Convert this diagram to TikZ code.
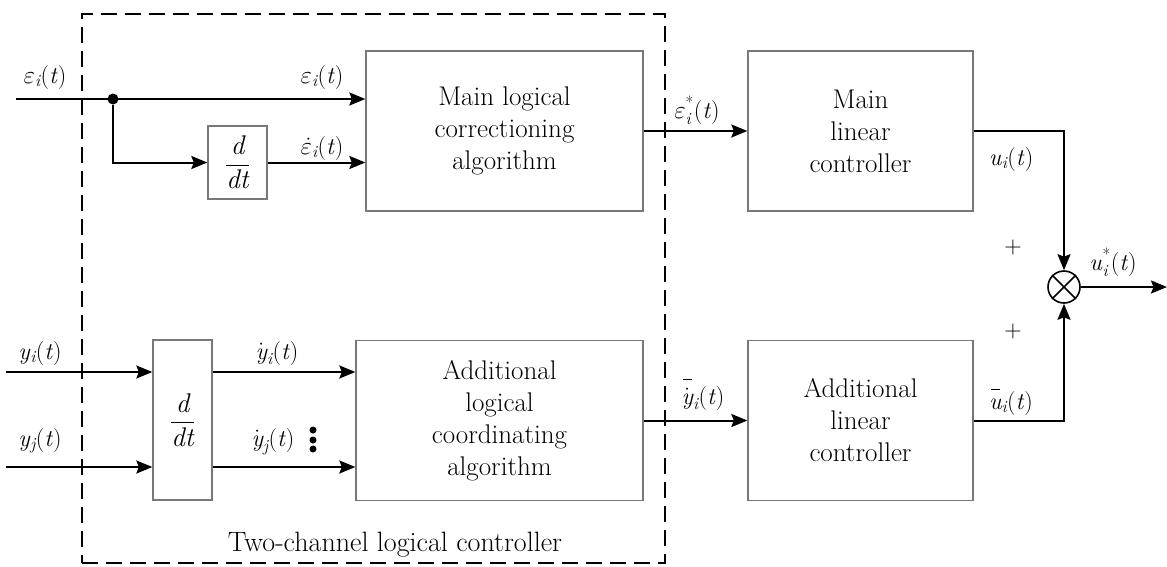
\documentclass[tikz,border=0pt]{standalone}
\usepackage{amsmath}
\usepackage{fontspec}
\usetikzlibrary{arrows.meta}

\definecolor{boxgray}{RGB}{120,120,120}
\newcommand{\boxfont}{\fontsize{27}{32}\selectfont}
\newcommand{\capfont}{\fontsize{28}{32}\selectfont}
\newcommand{\lblfont}{\fontsize{24}{28}\selectfont}
\newcommand{\ddt}{$\displaystyle\frac{\textit{d}}{\textit{dt}}$}
% bar set well above a symbol
\newcommand{\topbar}[1]{\overset{\raisebox{3pt}{\rule{9pt}{1.1pt}}}{#1}}

\begin{document}
\begin{tikzpicture}[x=1pt,y=-1pt,
  block/.style={draw=boxgray, line width=1.3pt, align=center, font=\boxfont, inner sep=0pt},
  conn/.style={line width=2pt, -{Stealth[length=16pt,width=13pt,inset=2.5pt]}},
  lbl/.style={font=\lblfont, anchor=base, inner sep=0pt},
  dashbox/.style={draw, line width=2pt, dash pattern=on 16pt off 8pt, inner sep=0pt},
  junction/.style={circle, fill, inner sep=0pt, minimum size=11pt},
  vdot/.style={circle, fill, inner sep=0pt, minimum size=7pt},
  sumnode/.style={circle, draw, line width=1.6pt, inner sep=0pt, minimum size=32pt}
]
\useasboundingbox (0,0) rectangle (1167,566);

% two-channel logical controller frame
\node[dashbox, minimum width=583pt, minimum height=549pt] (tcl) at (373.5,288.5) {};
\node[font=\capfont] (tclcap) at (395,545) {Two-channel logical controller};

% blocks
\node[block, minimum width=277pt, minimum height=160pt] (mlca) at (504.5,131) {Main logical\\correctioning\\algorithm};
\node[block, minimum width=225pt, minimum height=160pt] (mlc) at (860.5,131) {Main\\linear\\controller};
\node[block, minimum width=287pt, minimum height=160pt] (alca) at (499.5,420.5) {Additional\\logical\\coordinating\\algorithm};
\node[block, minimum width=225pt, minimum height=160pt] (alc) at (860.5,420.5) {Additional\\linear\\controller};
\node[block, minimum width=59pt, minimum height=73pt] (d1) at (237.5,162.5) {\ddt};
\node[block, minimum width=59pt, minimum height=160pt] (d2) at (182.5,420) {\ddt};

% summing junction
\node[sumnode] (sum) at (1064,287) {};
\draw[line width=1.6pt] (sum.north west) -- (sum.south east) (sum.north east) -- (sum.south west);

% free ends
\coordinate (ein) at (16,99);
\coordinate (yi) at (6,372);
\coordinate (yj) at (6,467);
\coordinate (out) at (1167,287);
\node[junction] (br) at (113,99) {};

% connectors
\draw[conn] (ein) -- (ein -| mlca.west);
\draw[conn] (br) |- (d1.west);
\draw[conn] (d1.east) -- (d1.east -| mlca.west);
\draw[conn] (yi) -- (yi -| d2.west);
\draw[conn] (yj) -- (yj -| d2.west);
\draw[conn] (d2.east |- yi) -- (yi -| alca.west);
\draw[conn] (d2.east |- yj) -- (yj -| alca.west);
\draw[conn] (mlca.east) -- (mlc.west);
\draw[conn] (alca.east) -- (alc.west);
\draw[conn] (mlc.east) -| (sum.north);
\draw[conn] (alc.east) -| (sum.south);
\draw[conn] (sum.east) -- (out);

% signal labels
\node[lbl] (l1) at (45,83) {$\varepsilon_{\textit{i}}$(\textit{t})};
\node[lbl] (l2) at (322,83) {$\varepsilon_{\textit{i}}$(\textit{t})};
\node[lbl] (l3) at (322,154) {$\dot{\varepsilon}_{\textit{i}}$(\textit{t})};
\node[lbl] (l4) at (40,359) {\textit{y}$_{\textit{i}}$(\textit{t})};
\node[lbl] (l5) at (40,446) {\textit{y}$_{\textit{j}}$(\textit{t})};
\node[lbl] (l6) at (277,359) {$\dot{\textit{y}}_{\textit{i}}$(\textit{t})};
\node[lbl] (l7) at (273,446) {$\dot{\textit{y}}_{\textit{j}}$(\textit{t})};
\node[lbl] (l8) at (697,118) {$\varepsilon^{\text{*}}_{\textit{i}}$(\textit{t})};
\node[lbl] (l9) at (703,404) {$\topbar{\dot{\textit{y}}}_{\textit{i}}$(\textit{t})};
\node[lbl] (l10) at (1011,165) {\textit{u}$_{\textit{i}}$(\textit{t})};
\node[lbl] (l11) at (1011,409) {$\topbar{\textit{u}}_{\textit{i}}$(\textit{t})};
\node[lbl] (l12) at (1113,270) {\textit{u}$^{\text{*}}_{\textit{i}}$(\textit{t})};

% signs at the junction
\node[font=\lblfont, inner sep=0pt] (p1) at (1013,248) {+};
\node[font=\lblfont, inner sep=0pt] (p2) at (1013,332) {+};

% vertical ellipsis
\node[vdot] (v1) at (313,430) {};
\node[vdot] (v2) at (313,440) {};
\node[vdot] (v3) at (313,449) {};
\end{tikzpicture}
\end{document}
